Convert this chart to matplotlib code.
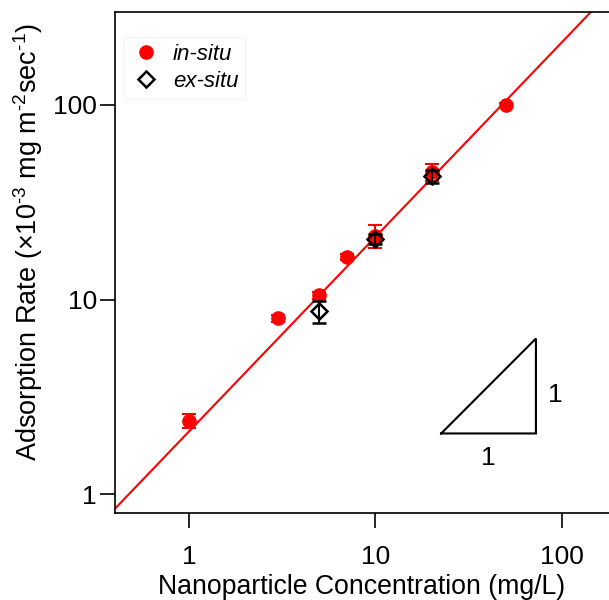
import matplotlib
matplotlib.use("Agg")
import matplotlib.pyplot as plt
from matplotlib.lines import Line2D
import numpy as np

plt.rcParams['font.family'] = ['Liberation Sans', 'DejaVu Sans']
plt.rcParams['mathtext.fontset'] = 'custom'
plt.rcParams['mathtext.rm'] = 'Liberation Sans'
plt.rcParams['mathtext.it'] = 'Liberation Sans:italic'

# Data
insitu_x = [1, 3, 5, 7, 10, 20, 50]
insitu_y = [2.38, 8.0, 10.5, 16.5, 21.2, 45.3, 100]
insitu_err = [0.2, 0.3, 0.4, 0.6, 2.8, 4.5, 2.0]

exsitu_x = [5, 10, 20]
exsitu_y = [8.7, 20.5, 43.0]
exsitu_err = [1.1, 1.2, 3.5]

fit_coef = 2.1
fit_slope = 1.0

tri_x = [22.5, 72.5, 72.5, 22.5]
tri_y = [2.05, 2.05, 6.3, 2.05]

xticks = [1, 10, 100]
xticklabels = ['1', '10', '100']
yticks = [1, 10, 100]
yticklabels = ['1', '10', '100']

fig = plt.figure(figsize=(6.09, 6.0), dpi=100)
ax = fig.add_axes([115/609, 1-513/600, 1-115/609, (513-12)/600])
ax.set_xscale('log')
ax.set_yscale('log')
ax.set_xlim(0.401, 178.7)
ax.set_ylim(0.80, 300)

xf = np.array([0.3, 300])
ax.plot(xf, fit_coef * xf ** fit_slope, color='#ff0000', lw=1.5, zorder=2)

ax.errorbar(insitu_x, insitu_y, yerr=insitu_err, fmt='o', color='#ff0000',
            ms=9.5, elinewidth=1.5, capsize=5, capthick=1.5, zorder=3)
ax.errorbar(exsitu_x, exsitu_y, yerr=exsitu_err, fmt='D', mfc='none', mec='black',
            color='black', ms=8, mew=1.8, elinewidth=1.5, capsize=5, capthick=1.5,
            zorder=4)

ax.plot(tri_x, tri_y, color='black', lw=1.5, solid_joinstyle='miter', zorder=2)
ax.text(np.sqrt(tri_x[0]*tri_x[1]), 1.53, '1', ha='center', va='center', fontsize=19)
ax.text(84, np.sqrt(tri_y[1]*tri_y[2]) * 0.9, '1', ha='left', va='center', fontsize=19)

ax.set_xticks(xticks)
ax.set_xticklabels(xticklabels)
ax.set_yticks(yticks)
ax.set_yticklabels(yticklabels)
ax.minorticks_off()
ax.tick_params(which='both', direction='out', length=11, width=1.2, labelsize=19)
ax.tick_params(axis='y', pad=2)
ax.tick_params(axis='x', pad=12)
ax.spines['right'].set_visible(False)
for s in ['left', 'bottom', 'top']:
    ax.spines[s].set_linewidth(1.2)

ax.set_xlabel('Nanoparticle Concentration (mg/L)', fontsize=19.2, labelpad=4)
ax.set_ylabel('Adsorption Rate (×10$^{\u2010 3}$ mg m$^{\u2010 2}$sec$^{\u2010 1}$)',
              fontsize=19.5)
ax.yaxis.set_label_coords(-0.142, 0.54)

handles = [
    Line2D([], [], ls='none', marker='o', color='#ff0000', ms=9.5),
    Line2D([], [], ls='none', marker='D', mfc='none', mec='black', ms=8, mew=1.8),
]
leg = ax.legend(handles, ['in-situ', 'ex-situ'], loc='upper left',
                bbox_to_anchor=(-0.004, 0.972), frameon=True, fancybox=False,
                prop={'style': 'italic', 'size': 16}, handletextpad=0.5, borderpad=0.3,
                labelspacing=0.28, handlelength=1.4)
leg.get_frame().set_edgecolor('#f2f2f2')
leg.get_frame().set_linewidth(0.8)

fig.savefig('out.png', dpi=100)
